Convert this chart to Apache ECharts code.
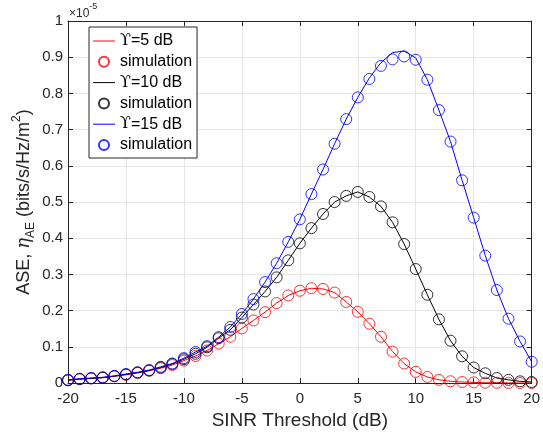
<!DOCTYPE html>
<html>
<head>
<meta charset="utf-8">
<script src="https://cdn.jsdelivr.net/npm/echarts@6/dist/echarts.min.js"></script>
<style>
html,body{margin:0;padding:0;background:#fff;}
#chart{width:543px;height:435px;}
</style>
</head>
<body>
<div id="chart"></div>
<script>
// x values: SINR threshold (dB)
const xValues = [-20,-19,-18,-17,-16,-15,-14,-13,-12,-11,-10,-9,-8,-7,-6,-5,-4,-3,-2,-1,0,1,2,3,4,5,6,7,8,9,10,11,12,13,14,15,16,17,18,19,20];
// ASE values (x 1e-5)
const red5Theory = [0.008,0.011,0.013,0.015,0.019,0.023,0.028,0.034,0.041,0.050,0.062,0.075,0.090,0.109,0.128,0.151,0.173,0.196,0.221,0.242,0.255,0.262,0.260,0.250,0.224,0.197,0.164,0.128,0.087,0.054,0.031,0.017,0.009,0.005,0.003,0.002,0.001,0.001,0.0005,0.0003,0.0002];
const red5Sim    = [0.008,0.011,0.013,0.015,0.019,0.023,0.028,0.034,0.041,0.050,0.062,0.075,0.090,0.109,0.128,0.151,0.173,0.196,0.221,0.242,0.255,0.262,0.260,0.250,0.224,0.197,0.164,0.128,0.087,0.054,0.031,0.017,0.009,0.005,0.003,0.002,0.001,0.001,0.0005,0.0003,0.0002];
const black10Theory = [0.008,0.011,0.013,0.015,0.019,0.024,0.029,0.035,0.043,0.053,0.066,0.081,0.099,0.124,0.147,0.181,0.217,0.253,0.292,0.339,0.386,0.428,0.467,0.500,0.517,0.528,0.514,0.488,0.444,0.384,0.315,0.244,0.176,0.117,0.074,0.043,0.027,0.014,0.009,0.005,0.003];
const black10Sim    = [0.008,0.011,0.013,0.015,0.019,0.024,0.029,0.035,0.043,0.053,0.066,0.081,0.099,0.124,0.147,0.181,0.217,0.253,0.292,0.339,0.386,0.428,0.467,0.500,0.517,0.528,0.514,0.488,0.444,0.384,0.315,0.244,0.176,0.117,0.074,0.043,0.027,0.014,0.009,0.005,0.003];
const blue15Theory = [0.009,0.012,0.014,0.016,0.020,0.025,0.030,0.036,0.045,0.054,0.069,0.086,0.102,0.127,0.155,0.191,0.232,0.279,0.331,0.390,0.452,0.522,0.590,0.661,0.729,0.789,0.843,0.885,0.913,0.917,0.898,0.838,0.754,0.667,0.560,0.457,0.352,0.257,0.178,0.115,0.059];
const blue15Sim    = [0.009,0.012,0.014,0.016,0.020,0.025,0.030,0.036,0.045,0.054,0.069,0.086,0.102,0.127,0.155,0.191,0.232,0.279,0.331,0.390,0.452,0.522,0.590,0.661,0.729,0.789,0.840,0.876,0.894,0.902,0.893,0.838,0.754,0.667,0.560,0.457,0.352,0.257,0.178,0.115,0.059];
const xTicks = [-20,-15,-10,-5,0,5,10,15,20];
const yTicks = [0,0.1,0.2,0.3,0.4,0.5,0.6,0.7,0.8,0.9,1];
const legendNames = ['ϒ=5 dB','simulation ','ϒ=10 dB','simulation  ','ϒ=15 dB','simulation   '];

const pair = arr => xValues.map((x,i)=>[x,arr[i]]);
const FONT = '"Liberation Sans", Arial, Helvetica, sans-serif';
const AX = '#262626';
const LINE_ICON = 'path://M0,0 L22,0 L22,1 L0,1 Z';

function lineSeries(name, data, color){
  return {name, type:'line', data:pair(data), symbol:'none', showSymbol:false,
    lineStyle:{color, width:1}, itemStyle:{color}, z:2, animation:false};
}
function simSeries(name, data, color){
  return {name, type:'scatter', data:pair(data), symbol:'circle', symbolSize:11,
    itemStyle:{color:'rgba(0,0,0,0)', borderColor:color, borderWidth:1}, z:3, animation:false};
}

const chart = echarts.init(document.getElementById('chart'), null, {renderer:'canvas'});
const axisCommon = {
  type:'value',
  axisLine:{show:true, onZero:false, lineStyle:{color:AX, width:1}},
  axisTick:{show:true, inside:true, length:5, lineStyle:{color:AX}},
};
chart.setOption({
  animation:false,
  backgroundColor:'#fff',
  grid:{left:68, right:7, top:21, bottom:45, containLabel:false},
  xAxis:[
    Object.assign({}, axisCommon, {
      position:'bottom', min:xTicks[0], max:xTicks[xTicks.length-1], interval:5,
      axisLabel:{color:AX, fontSize:15, fontFamily:FONT, margin:8},
      splitLine:{show:true, lineStyle:{color:'#e6e6e6', width:1}},
      name:'SINR Threshold (dB)', nameLocation:'middle', nameGap:21,
      nameTextStyle:{color:AX, fontSize:19, fontFamily:FONT}
    }),
    Object.assign({}, axisCommon, {
      position:'top', min:xTicks[0], max:xTicks[xTicks.length-1], interval:5,
      axisLabel:{show:false}, splitLine:{show:false}
    })
  ],
  yAxis:[
    Object.assign({}, axisCommon, {
      position:'left', min:yTicks[0], max:yTicks[yTicks.length-1], interval:0.1,
      axisLabel:{color:AX, fontSize:15, fontFamily:FONT, margin:5,
        formatter: v => String(Math.round(v*10)/10)},
      splitLine:{show:true, lineStyle:{color:'#e6e6e6', width:1}}
    }),
    Object.assign({}, axisCommon, {
      position:'right', min:yTicks[0], max:yTicks[yTicks.length-1], interval:0.1,
      axisLabel:{show:false}, splitLine:{show:false}
    })
  ],
  legend:{
    orient:'vertical', left:89, top:27,
    padding:[6,5,5,4], itemGap:4.8, itemWidth:22, itemHeight:10,
    backgroundColor:'#fff', borderColor:AX, borderWidth:1,
    textStyle:{color:'#000', fontSize:16, fontFamily:FONT, lineHeight:16,
      rich:{u:{fontSize:16, fontFamily:'"DejaVu Serif", serif', color:'#000', lineHeight:16}}},
    formatter: name => name.startsWith('ϒ') ? '{u|ϒ}' + name.slice(1).trim() : name.trim(),
    data:[
      {name:legendNames[0], icon:LINE_ICON},
      {name:legendNames[1]},
      {name:legendNames[2], icon:LINE_ICON},
      {name:legendNames[3]},
      {name:legendNames[4], icon:LINE_ICON},
      {name:legendNames[5]}
    ]
  },
  graphic:[
    {type:'text', x:24, y:202, rotation:Math.PI/2,
      style:{
        text:'{n|ASE, }{eta|η}{sub|AE}{n| (bits/s/Hz/m}{sup|2}{n|)}',
        align:'center', verticalAlign:'middle', fill:AX,
        rich:{
          n:{fontSize:18, fontFamily:FONT, fill:AX, lineHeight:26, verticalAlign:'middle'},
          eta:{fontSize:18, fontFamily:'"DejaVu Serif", serif', fontStyle:'italic', fill:AX, lineHeight:26, verticalAlign:'middle'},
          sub:{fontSize:12, fontFamily:FONT, fill:AX, lineHeight:26, verticalAlign:'bottom'},
          sup:{fontSize:12, fontFamily:FONT, fill:AX, lineHeight:26, verticalAlign:'top'}
        }
      }},
    {type:'text', x:69, y:11,
      style:{text:'{a|×10}{b|-5}', verticalAlign:'middle', fill:AX,
        rich:{a:{fontSize:12, fontFamily:FONT, fill:AX, lineHeight:18, verticalAlign:'bottom'},
              b:{fontSize:9, fontFamily:FONT, fill:AX, lineHeight:18, verticalAlign:'top'}}}}
  ],
  series:[
    lineSeries(legendNames[0], red5Theory, '#ff0000'),
    simSeries(legendNames[1], red5Sim, '#ff0000'),
    lineSeries(legendNames[2], black10Theory, '#000000'),
    simSeries(legendNames[3], black10Sim, '#000000'),
    lineSeries(legendNames[4], blue15Theory, '#0000ff'),
    simSeries(legendNames[5], blue15Sim, '#0000ff')
  ]
});
</script>
</body>
</html>
